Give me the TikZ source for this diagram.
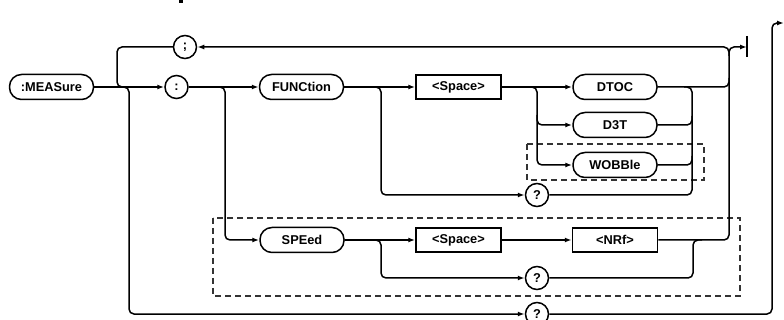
\documentclass[tikz,border=0pt]{standalone}
\usepackage{fontspec}
\setmainfont{Liberation Sans}
\usetikzlibrary{arrows.meta}
\begin{document}
\begin{tikzpicture}[x=1pt,y=-1pt,
  line width=1.5pt,
  every node/.style={font=\fontsize{12.8}{14}\selectfont\bfseries, inner sep=0pt},
  kw/.style={draw, rectangle, rounded corners=12pt, minimum width=84pt, minimum height=25pt},
  ph/.style={draw, rectangle, minimum width=85pt, minimum height=24pt},
  sym/.style={draw, circle, minimum size=23pt},
  rc/.style={rounded corners=5pt},
  arr/.style={-{Latex[length=7pt,width=5pt]}},
  grp/.style={draw=black!80, line width=1.1pt, dash pattern=on 6pt off 4pt}]
\useasboundingbox (0,0) rectangle (784,320);
\fill (178.5,0) rectangle (182.5,3.5);
% dashed groups
\draw[grp] (527,144) rectangle (704,180);
\draw[grp] (213,218) rectangle (740,296);
% nodes
\node[kw] (measure) at (51.5,87) {:MEASure};
\node[sym] (semi) at (185,47) {;};
\node[sym] (colon) at (176.5,87) {:};
\node[kw] (func) at (301.5,87) {FUNCtion};
\node[ph] (sp1) at (458.5,87) {<Space>};
\node[kw] (dtoc) at (615,87) {DTOC};
\node[kw] (d3t) at (615,125) {D3T};
\node[kw] (wob) at (615,165) {WOBBle};
\node[sym] (q1) at (537,195) {?};
\node[kw] (speed) at (302,240) {SPEed};
\node[ph] (sp2) at (458.5,240) {<Space>};
\node[ph] (nrf) at (615,240) {<NRf>};
\node[sym] (q2) at (537,278) {?};
\node[sym] (q3) at (537,314) {?};
\coordinate (term) at (747,47);
\coordinate (out) at (784,23);
% main line
\draw[arr] (measure) -- (colon);
\draw[rc] (semi.west) -- (117,47) -- (117,87) -- (126,87);
\draw[rc,arr] (121,87) -- (129,87) -- (129,314) -- (q3.west);
\draw[rc,arr] (q3.east) -- (772,314) -- (772,23) -- (out);
\draw[arr] (colon) -- (func);
\draw[rc,arr] (218,87) -- (225,87) -- (225,240) -- (speed.west);
% FUNCtion row
\draw[arr] (func) -- (sp1);
\draw[rc,arr] (374,87) -- (381,87) -- (381,195) -- (q1.west);
\draw[arr] (sp1) -- (dtoc);
\draw[rc,arr] (530,87) -- (537,87) -- (537,165) -- (wob.west);
\draw[rc,arr] (537,115) -- (537,125) -- (d3t.west);
\draw[rc] (dtoc.east) -- (729,87) -- (729,78);
\draw[rc] (684,87) -- (692,87) -- (692,195) -- (q1.east);
\draw[rc] (d3t.east) -- (692,125) -- (692,116);
\draw[rc] (wob.east) -- (692,165) -- (692,156);
% SPEed row
\draw[arr] (speed) -- (sp2);
\draw[arr] (sp2) -- (nrf);
\draw[rc,arr] (374,240) -- (381,240) -- (381,278) -- (q2.west);
\draw[rc] (q2.east) -- (693,278) -- (693,240) -- (702,240);
% collector and end
\draw[rc,arr] (nrf.east) -- (729,240) -- (729,47) -- (term);
\draw[rc,arr] (729,56) -- (729,47) -- (semi.east);
\draw[line width=1.6pt] (747,36) -- (747,57);
\end{tikzpicture}
\end{document}
